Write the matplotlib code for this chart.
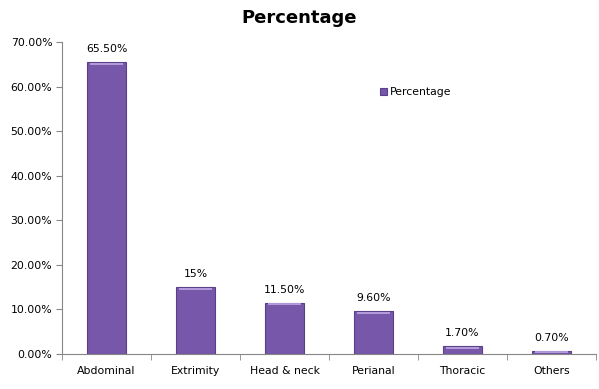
import matplotlib
matplotlib.use("Agg")
import matplotlib.pyplot as plt
import numpy as np

CATEGORIES = ["Abdominal", "Extrimity", "Head & neck", "Perianal", "Thoracic", "Others"]
VALUES     = [65.5, 15.0, 11.5, 9.6, 1.7, 0.7]
LABELS     = ["65.50%", "15%", "11.50%", "9.60%", "1.70%", "0.70%"]
YTICKS     = [0, 10, 20, 30, 40, 50, 60, 70]

BAR   = "#7757aa"
EDGE  = "#5a4187"
CAP   = "#c0a8e6"
AXIS  = "#868686"

fig = plt.figure(figsize=(5.99, 3.89), dpi=100, facecolor="white")
ax = fig.add_axes([62/599, 1 - 354/389, 534/599, 312/389])

x = np.arange(len(CATEGORIES))
bars = ax.bar(x, VALUES, width=0.43, color=BAR, edgecolor=EDGE, linewidth=0.8,
              label="Percentage", zorder=2)
# light cap along the top of each bar
for b in bars:
    ax.plot([b.get_x() + 0.03, b.get_x() + b.get_width() - 0.03],
            [b.get_height() - 0.35] * 2, color=CAP, lw=1.2, zorder=3,
            solid_capstyle="butt")

for xi, v, lab in zip(x, VALUES, LABELS):
    ax.text(xi, v + 1.8, lab, ha="center", va="bottom", fontsize=7.8, color="black")

ax.set_xlim(-0.5, len(CATEGORIES) - 0.5)
ax.set_ylim(0, 70)
ax.set_yticks(YTICKS)
ax.set_yticklabels([f"{t:.2f}%" for t in YTICKS], fontsize=7.8)
ax.set_xticks(x)
ax.set_xticklabels(CATEGORIES, fontsize=7.8)
ax.tick_params(axis="x", length=0, pad=9)
ax.set_xticks(np.arange(len(CATEGORIES) + 1) - 0.5, minor=True)
ax.tick_params(axis="x", which="minor", length=4, color=AXIS, direction="out")
ax.tick_params(axis="y", length=4, color=AXIS, direction="out", pad=3)

for s in ("top", "right"):
    ax.spines[s].set_visible(False)
for s in ("left", "bottom"):
    ax.spines[s].set_color(AXIS)

fig.text(0.5, 1 - 18/389, "Percentage", ha="center", va="center",
         fontsize=13, fontweight="bold")

fig.legend(handles=[bars], labels=["Percentage"], loc="center left",
           bbox_to_anchor=(380/599, 1 - 92/389), frameon=False, fontsize=7.8,
           handlelength=0.6, handleheight=0.6, handletextpad=0.3,
           borderaxespad=0, borderpad=0)

fig.savefig("out.png", dpi=100, facecolor="white")
